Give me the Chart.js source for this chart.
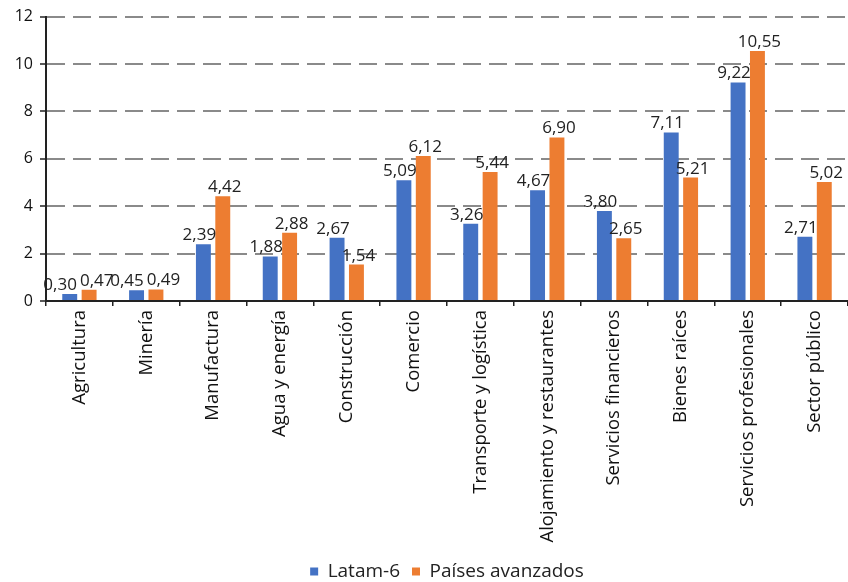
<!DOCTYPE html>
<html>
<head>
<meta charset="utf-8">
<script src="https://cdn.jsdelivr.net/npm/chart.js@4.4.0/dist/chart.umd.min.js"></script>
<style>
html,body{margin:0;padding:0;background:#fff;}
#wrap{width:848px;height:582px;}
</style>
</head>
<body>
<div id="wrap"><canvas id="c" width="848" height="582"></canvas></div>
<script>
const categories = ["Agricultura","Minería","Manufactura","Agua y energía","Construcción","Comercio","Transporte y logística","Alojamiento y restaurantes","Servicios financieros","Bienes raíces","Servicios profesionales","Sector público"];
const latam6 = [0.30,0.45,2.39,1.88,2.67,5.09,3.26,4.67,3.80,7.11,9.22,2.71];
const avanzados = [0.47,0.49,4.42,2.88,1.54,6.12,5.44,6.90,2.65,5.21,10.55,5.02];
const yTicks = [0,2,4,6,8,10,12];

const FONT = "'Open Sans', 'Noto Sans', sans-serif";

const labelPlugin = {
  id: 'valueLabels',
  afterDatasetsDraw(chart) {
    const ctx = chart.ctx;
    ctx.save();
    ctx.font = "17px " + FONT;
    ctx.fillStyle = "#222";
    ctx.textAlign = "center";
    ctx.textBaseline = "alphabetic";
    const offs = [-4, 2];
    const TH = 14; // approx text height
    const m0 = chart.getDatasetMeta(0), m1 = chart.getDatasetMeta(1);
    const d0 = chart.data.datasets[0].data, d1 = chart.data.datasets[1].data;
    const fmt = v => v.toFixed(2).replace('.', ',');
    for (let i = 0; i < d0.length; i++) {
      const b0 = m0.data[i], b1 = m1.data[i];
      const t0 = fmt(d0[i]), t1 = fmt(d1[i]);
      let x0 = b0.x + offs[0], x1 = b1.x + offs[1];
      const y0 = b0.y - 4, y1 = b1.y - 4;
      const w0 = ctx.measureText(t0).width, w1 = ctx.measureText(t1).width;
      if (Math.abs(y0 - y1) < TH) {
        const overlap = (x0 + w0 / 2 + 3) - (x1 - w1 / 2);
        if (overlap > 0) { x0 -= overlap / 2; x1 += overlap / 2; }
      }
      ctx.fillText(t0, x0, y0);
      ctx.fillText(t1, x1, y1);
    }
    ctx.restore();
  }
};

new Chart(document.getElementById('c'), {
  type: 'bar',
  data: {
    labels: categories,
    datasets: [
      { label: 'Latam-6', data: latam6, backgroundColor: '#4472C4', categoryPercentage: 0.58, barPercentage: 0.77 },
      { label: 'Países avanzados', data: avanzados, backgroundColor: '#ED7D31', categoryPercentage: 0.58, barPercentage: 0.77 }
    ]
  },
  options: {
    responsive: false,
    animation: false,
    devicePixelRatio: 1,
    layout: { padding: { top: 15, right: 0, left: 0, bottom: -9 } },
    plugins: {
      tooltip: { enabled: false },
      legend: {
        position: 'bottom',
        fullSize: false,
        labels: {
          font: { family: FONT, size: 19 },
          color: '#222',
          boxWidth: 8,
          boxHeight: 8,
          padding: 12
        }
      }
    },
    scales: {
      x: {
        grid: { drawOnChartArea: false, drawTicks: true, tickLength: 5, color: '#222', lineWidth: 1.5, offset: true },
        border: { color: '#222', width: 2 },
        ticks: {
          font: { family: FONT, size: 18.5 },
          color: '#111',
          maxRotation: 90,
          minRotation: 90,
          autoSkip: false,
          padding: 4
        },
        afterFit(scale) { scale.height = 249; }
      },
      y: {
        min: 0,
        max: 12,
        afterBuildTicks(scale) { scale.ticks = yTicks.map(v => ({ value: v })); },
        grid: {
          color: '#8a8a8a',
          lineWidth: 2,
          tickBorderDash: [],
          tickColor: '#222',
          tickLength: 6,
          tickWidth: 1.5,
          drawTicks: true
        },
        border: { color: '#222', width: 2, dash: [18, 8] },
        ticks: {
          font: { family: FONT, size: 16 },
          color: '#111',
          padding: 7,
          callback: v => String(v)
        },
        afterFit(scale) { scale.width = 46; }
      }
    }
  },
  plugins: [labelPlugin]
});
</script>
</body>
</html>
